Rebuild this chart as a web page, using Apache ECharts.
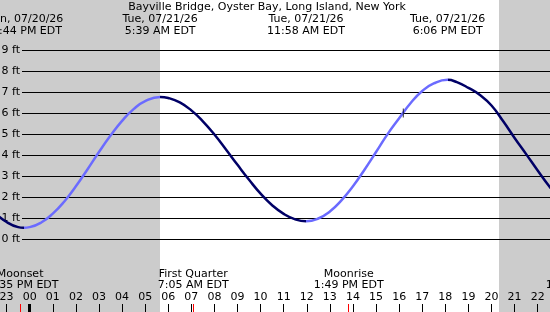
<!DOCTYPE html>
<html>
<head>
<meta charset="utf-8">
<title>Bayville Bridge tide</title>
<script src="https://cdn.jsdelivr.net/npm/echarts@6/dist/echarts.min.js"></script>
<style>
html, body { margin: 0; padding: 0; background: #fff; }
#tide_chart { width: 550px; height: 312px; }
</style>
</head>
<body>
<div id="tide_chart"></div>
<script>
var stationName = 'Bayville Bridge, Oyster Bay, Long Island, New York';

// 潮位曲线 (小时, 英尺), 0 = 07/21 00:00
var tideHours = [-2, -1.5, -1, -0.5, -0.27, 0, 0.5, 1, 1.5, 2, 2.5, 3, 3.5, 4, 4.5, 5, 5.65,
    6, 6.5, 7, 7.5, 8, 8.5, 9, 9.5, 10, 10.5, 11, 11.5, 11.97,
    12.5, 13, 13.5, 14, 14.5, 15, 15.5, 16, 16.5, 17, 17.5, 18.1,
    18.5, 19, 19.5, 20, 20.5, 21, 21.5, 22, 22.5, 23];
var tideFeet = [1.82, 1.25, 0.82, 0.58, 0.55, 0.58, 0.80, 1.22, 1.80, 2.52, 3.32, 4.15, 4.93, 5.63, 6.19, 6.57, 6.77,
    6.72, 6.51, 6.13, 5.61, 4.98, 4.27, 3.54, 2.83, 2.17, 1.62, 1.21, 0.95, 0.86,
    0.99, 1.32, 1.85, 2.52, 3.31, 4.15, 5.0, 5.75, 6.48, 7.05, 7.41, 7.58,
    7.47, 7.2, 6.86, 6.36, 5.62, 4.82, 4.05, 3.27, 2.52, 1.85];

// 高低潮
var tideEventHours = [-0.267, 5.65, 11.967, 18.1];
var tideEventDates = ['Mon, 07/20/26', 'Tue, 07/21/26', 'Tue, 07/21/26', 'Tue, 07/21/26'];
var tideEventTimes = ['11:44 PM EDT', '5:39 AM EDT', '11:58 AM EDT', '6:06 PM EDT'];

// 月亮事件
var moonEventHours = [-0.417, 7.083, 13.817, 24.033];
var moonEventNames = ['Moonset', 'First Quarter', 'Moonrise', 'Moonset'];
var moonEventTimes = ['11:35 PM EDT', '7:05 AM EDT', '1:49 PM EDT', '12:02 AM EDT'];

var sunriseHour = 5.65;
var sunsetHour = 20.32;
var midnightHours = [0];
var markHour = 16.18;
var markFeet = 6.0;
var feetTicks = [0, 9];

var tide_chart = {
    chart : null,
    W : 550,
    H : 312,
    hourPx : 23.09,
    zeroPx : 29.7,
    xMin : -2,
    xMax : 23,
    font : '11px "DejaVu Sans"',
    /**
     * 初始化
     */
    init : function() {
        this.chart = echarts.init(document.getElementById('tide_chart'), null, { renderer : 'canvas' });
        this.chart.setOption(this.buildOption());
        this.drawLabels();
    },
    /**
     * 图表配置
     */
    buildOption : function() {
        var me = this;
        var left = me.zeroPx + me.xMin * me.hourPx;
        var right = me.W - (me.zeroPx + me.xMax * me.hourPx);
        var top = 50;
        var bottom = me.H - 239.3;

        var curve = [];
        for (var i = 0; i < tideHours.length; i++) {
            curve.push([ tideHours[i], tideFeet[i] ]);
        }
        var ticks = [];
        for (var j = 0; j < moonEventHours.length; j++) {
            ticks.push({ value : [ moonEventHours[j], 1 ], itemStyle : { color : '#ff0000' } });
        }
        for (var k = 0; k < midnightHours.length; k++) {
            ticks.push({ value : [ midnightHours[k], 3 ], itemStyle : { color : '#000' } });
        }
        var dark = '#000066', light = '#6b6bff';
        var ev = tideEventHours;
        var gridBase = { outerBoundsMode : 'none', containLabel : false };
        var mkGrid = function(l, r, t, b) {
            return echarts.util.extend({ left : l, right : r, top : t, bottom : b }, gridBase);
        };

        return {
            backgroundColor : '#fff',
            animation : false,
            textStyle : { fontFamily : 'DejaVu Sans', fontSize : 11, color : '#000' },
            grid : [
                mkGrid(left, right, 0, 0),
                mkGrid(22, 0, top, bottom),
                mkGrid(left, right, top, bottom),
                mkGrid(left, right, 250, 0)
            ],
            xAxis : [
                { gridIndex : 0, type : 'value', min : me.xMin, max : me.xMax, show : false },
                { gridIndex : 1, type : 'value', min : 0, max : 1, show : false },
                { gridIndex : 2, type : 'value', min : me.xMin, max : me.xMax, show : false },
                {
                    gridIndex : 3, type : 'value', min : me.xMin, max : me.xMax, interval : 1, z : 10,
                    axisLine : { show : false },
                    splitLine : { show : false },
                    axisTick : { inside : true, length : 8, lineStyle : { color : '#000', width : 1 } },
                    axisLabel : {
                        inside : true, margin : 15, verticalAlign : 'middle',
                        color : '#000', fontFamily : 'DejaVu Sans', fontSize : 11,
                        formatter : function(v) {
                            var h = ((Math.round(v) % 24) + 24) % 24;
                            return (h < 10 ? '0' : '') + h;
                        }
                    }
                }
            ],
            yAxis : [
                { gridIndex : 0, type : 'value', min : 0, max : 1, show : false },
                {
                    gridIndex : 1, type : 'value', min : feetTicks[0], max : feetTicks[1], interval : 1, z : 10,
                    axisLine : { show : false },
                    axisTick : { show : false },
                    splitLine : { lineStyle : { color : '#000', width : 1 } },
                    axisLabel : { margin : 2, formatter : '{value} ft', color : '#000', fontFamily : 'DejaVu Sans', fontSize : 11 }
                },
                { gridIndex : 2, type : 'value', min : feetTicks[0], max : feetTicks[1], show : false },
                { gridIndex : 3, type : 'value', min : 0, max : 1, show : false }
            ],
            visualMap : {
                type : 'piecewise', show : false, seriesIndex : 1, dimension : 0,
                pieces : [
                    { lt : ev[0], color : dark },
                    { gte : ev[0], lt : ev[1], color : light },
                    { gte : ev[1], lt : ev[2], color : dark },
                    { gte : ev[2], lt : ev[3], color : light },
                    { gte : ev[3], color : dark }
                ]
            },
            series : [
                {
                    // 夜间阴影
                    type : 'custom', xAxisIndex : 0, yAxisIndex : 0, z : 1, silent : true,
                    data : [ [ me.xMin, sunriseHour ], [ sunsetHour, me.xMax ] ],
                    renderItem : function(params, api) {
                        var a = api.coord([ api.value(0), 1 ]);
                        var b = api.coord([ api.value(1), 0 ]);
                        return {
                            type : 'rect',
                            shape : { x : Math.round(a[0]), y : a[1], width : Math.round(b[0]) - Math.round(a[0]), height : b[1] - a[1] },
                            style : { fill : '#cccccc' }
                        };
                    }
                },
                {
                    type : 'line', xAxisIndex : 2, yAxisIndex : 2, z : 12, silent : true,
                    data : curve, smooth : true, showSymbol : false,
                    lineStyle : { width : 2.5 }
                },
                {
                    type : 'scatter', xAxisIndex : 2, yAxisIndex : 2, z : 13, silent : true,
                    data : [ [ markHour, markFeet ] ],
                    symbol : 'rect', symbolSize : [ 1, 9 ],
                    itemStyle : { color : '#000' }
                },
                {
                    // 事件刻度
                    type : 'custom', xAxisIndex : 3, yAxisIndex : 3, z : 11, silent : true,
                    data : ticks,
                    renderItem : function(params, api) {
                        var p = api.coord([ api.value(0), 0 ]);
                        var w = api.value(1);
                        return {
                            type : 'rect',
                            shape : { x : Math.round(p[0] - w / 2), y : p[1] - 8, width : w, height : 8 },
                            style : { fill : api.visual('color') }
                        };
                    }
                }
            ]
        };
    },
    /**
     * 标题和事件文字
     */
    drawLabels : function() {
        var me = this;
        var g = [];
        var text = function(x, y, s) {
            g.push({
                type : 'text', x : x, y : y, z : 20, silent : true,
                style : { text : s, fill : '#000', font : me.font, align : 'center', verticalAlign : 'middle' }
            });
        };
        text(267, 7, stationName);
        for (var i = 0; i < tideEventHours.length; i++) {
            var x = me.chart.convertToPixel({ xAxisIndex : 2 }, tideEventHours[i]);
            text(x, 19.2, tideEventDates[i]);
            text(x, 30.8, tideEventTimes[i]);
        }
        for (var j = 0; j < moonEventHours.length; j++) {
            var mx = me.chart.convertToPixel({ xAxisIndex : 2 }, moonEventHours[j]);
            text(mx, 273.7, moonEventNames[j]);
            text(mx, 285.5, moonEventTimes[j]);
        }
        me.chart.setOption({ graphic : g });
    }
};

tide_chart.init();
</script>
</body>
</html>
